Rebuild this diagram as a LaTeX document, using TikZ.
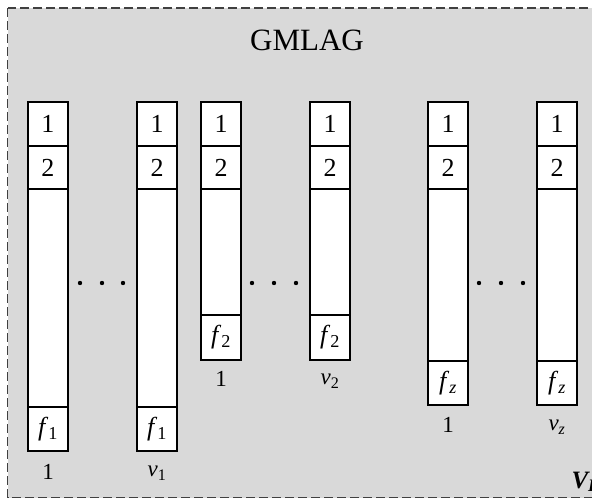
\documentclass[tikz,border=0pt]{standalone}
\usepackage{fontspec}
\setmainfont{Liberation Serif}
\usetikzlibrary{positioning}
\definecolor{panelgray}{RGB}{217,217,217}
\definecolor{edgegray}{RGB}{64,64,64}
\newcommand{\subvar}[2]{\textit{#1}\textsubscript{#2}}
\tikzset{
  cell/.style = {draw, fill = white, line width = 1.1pt, minimum width = 40pt, minimum height = 44pt, inner sep = 0pt, outer sep = 0pt, font = \fontsize{26}{30}\selectfont},
  idx/.style = {inner sep = 0pt, font = \fontsize{23}{27}\selectfont},
  dot/.style = {fill = black}
}
\begin{document}
\begin{tikzpicture} [x = 1pt, y = -1pt]
\useasboundingbox (0, 0) rectangle (592, 500);
\draw[fill = panelgray, draw = edgegray, line width = 1.1pt, dash pattern = on 9pt off 4pt] (7.5, 8) rectangle (640, 497.5);
\node[anchor = base, font = \fontsize{31}{36}\selectfont] (title) at (307, 51) {GMLAG};
\node[anchor = base west, font = \fontsize{25}{29}\selectfont\bfseries\itshape] (vl) at (568, 488) {V\textsubscript{L}};
\node[cell] (a1) at (48, 124) {1};
\node[cell, below = 0pt of a1, minimum height = 43pt] (b1) {2};
\node[cell, below = 0pt of b1, minimum height = 218pt] (m1) {};
\node[cell, below = 0pt of m1] (f1) {\subvar{f}{1}};
\node[idx, below = 13pt of f1] (n1) {1};
\node[cell] (a2) at (157, 124) {1};
\node[cell, below = 0pt of a2, minimum height = 43pt] (b2) {2};
\node[cell, below = 0pt of b2, minimum height = 218pt] (m2) {};
\node[cell, below = 0pt of m2] (f2) {\subvar{f}{1}};
\node[idx, below = 15pt of f2] (n2) {\subvar{v}{1}};
\node[cell] (a3) at (221, 124) {1};
\node[cell, below = 0pt of a3, minimum height = 43pt] (b3) {2};
\node[cell, below = 0pt of b3, minimum height = 126pt] (m3) {};
\node[cell, below = 0pt of m3, minimum height = 45pt] (f3) {\subvar{f}{2}};
\node[idx, below = 11pt of f3] (n3) {1};
\node[cell] (a4) at (330, 124) {1};
\node[cell, below = 0pt of a4, minimum height = 43pt] (b4) {2};
\node[cell, below = 0pt of b4, minimum height = 126pt] (m4) {};
\node[cell, below = 0pt of m4, minimum height = 45pt] (f4) {\subvar{f}{2}};
\node[idx, below = 14pt of f4] (n4) {\subvar{v}{2}};
\node[cell] (a5) at (448, 124) {1};
\node[cell, below = 0pt of a5, minimum height = 43pt] (b5) {2};
\node[cell, below = 0pt of b5, minimum height = 172pt] (m5) {};
\node[cell, below = 0pt of m5] (f5) {\subvar{f}{\textit{z}}};
\node[idx, below = 12pt of f5] (n5) {1};
\node[cell] (a6) at (557, 124) {1};
\node[cell, below = 0pt of a6, minimum height = 43pt] (b6) {2};
\node[cell, below = 0pt of b6, minimum height = 172pt] (m6) {};
\node[cell, below = 0pt of m6] (f6) {\subvar{f}{\textit{z}}};
\node[idx, below = 15pt of f6] (n6) {\subvar{v}{\textit{z}}};
\fill[dot] (80, 283) circle [radius = 2.2];
\fill[dot] (102, 283) circle [radius = 2.2];
\fill[dot] (123, 283) circle [radius = 2.2];
\fill[dot] (252, 283) circle [radius = 2.2];
\fill[dot] (274, 283) circle [radius = 2.2];
\fill[dot] (296, 283) circle [radius = 2.2];
\fill[dot] (479, 283) circle [radius = 2.2];
\fill[dot] (501, 283) circle [radius = 2.2];
\fill[dot] (523, 283) circle [radius = 2.2];
\end{tikzpicture}
\end{document}
